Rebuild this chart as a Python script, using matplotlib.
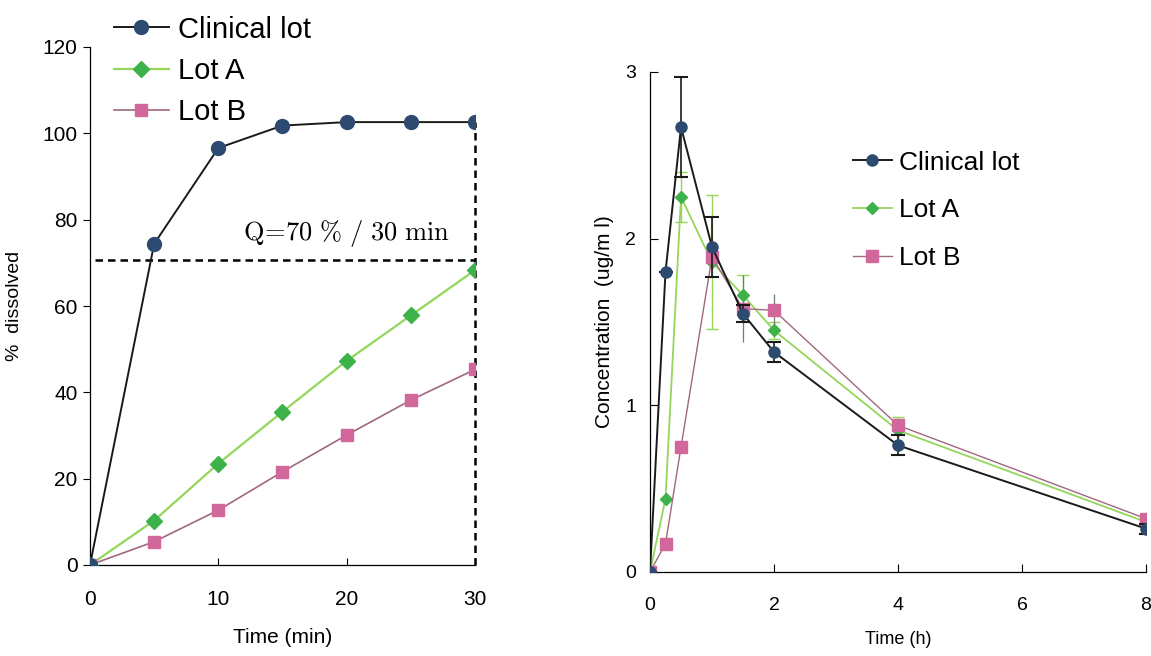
import numpy as np
import matplotlib
matplotlib.use("Agg")
import matplotlib.pyplot as plt

plt.rcParams['font.family'] = ['Liberation Sans', 'DejaVu Sans']
plt.rcParams['mathtext.fontset'] = 'cm'

# dissolution (left)
t_diss = [0, 5, 10, 15, 20, 25, 30]
diss_clinical = [0, 74.4, 96.6, 101.8, 102.6, 102.6, 102.6]
diss_lot_a = [0, 10.3, 23.5, 35.5, 47.3, 57.8, 68.3]
diss_lot_b = [0, 5.4, 12.7, 21.6, 30.1, 38.2, 45.3]
q_level = 70.6

# plasma concentration (right)
t_pk = [0, 0.25, 0.5, 1, 1.5, 2, 4, 8]
pk_clinical = [0, 1.80, 2.67, 1.95, 1.55, 1.32, 0.76, 0.26]
pk_clinical_err = [0, 0, 0.30, 0.18, 0.05, 0.06, 0.06, 0.03]
pk_lot_a = [0, 0.44, 2.25, 1.86, 1.66, 1.45, 0.85, 0.30]
pk_lot_a_err = [0, 0, 0.15, 0.40, 0.12, 0.05, 0.08, 0.03]
pk_lot_b = [0, 0.17, 0.75, 1.89, 1.58, 1.57, 0.88, 0.32]
pk_lot_b_err = [0, 0, 0, 0, 0.20, 0.10, 0.04, 0.04]

labels = ["Clinical lot", "Lot A", "Lot B"]
c_navy, c_black = "#2d4a70", "#1a1a1a"
c_green, c_green_line = "#3db24a", "#93d65a"
c_pink, c_pink_line = "#d2679b", "#a0687f"

fig = plt.figure(figsize=(11.51, 6.56), dpi=100)

# ---- left panel ----
ax1 = fig.add_axes([90/1151, 1-565/656, 385/1151, 518/656])
ax1.plot(t_diss, diss_clinical, '-o', color=c_black, lw=1.4, mfc=c_navy, mec=c_navy, ms=10, label=labels[0], zorder=4)
ax1.plot(t_diss, diss_lot_a, '-D', color=c_green_line, lw=1.6, mfc=c_green, mec=c_green, ms=8, label=labels[1], zorder=3)
ax1.plot(t_diss, diss_lot_b, '-s', color=c_pink_line, lw=1.2, mfc=c_pink, mec=c_pink, ms=9, label=labels[2], zorder=3)
ax1.plot([0.4, t_diss[-1]], [q_level, q_level], color='black', lw=1.8, ls=(0, (3, 2)), clip_on=False)
ax1.plot([t_diss[-1], t_diss[-1]], [0, diss_clinical[-1]], color='black', lw=1.8, ls=(0, (3, 2)), clip_on=False)
ax1.text(20, 75.3, r'$\mathrm{Q}\!=\!\mathrm{70\ \%\ /\ 30\ min}$', fontsize=19, ha='center', va='baseline')
ax1.set_xlim(0, 30)
ax1.set_ylim(0, 120)
ax1.set_xticks([0, 10, 20, 30])
ax1.set_yticks(range(0, 121, 20))
ax1.spines['top'].set_visible(False)
ax1.spines['right'].set_visible(False)
ax1.tick_params(axis='y', direction='out', length=5, labelsize=15, pad=4)
ax1.tick_params(axis='x', direction='in', length=5, labelsize=15, pad=18)
ax1.set_xlabel("Time (min)", fontsize=15, labelpad=14)
ax1.set_ylabel("%  dissolved", fontsize=14, labelpad=14)
for s in ax1.spines.values():
    s.set_linewidth(0.9)
ax1.legend(loc='upper left', bbox_to_anchor=(102/1151, 1-4/656), bbox_transform=fig.transFigure,
           frameon=False, fontsize=21, handlelength=1.9, handletextpad=0.3, labelspacing=0.45,
           borderaxespad=0)

# ---- right panel ----
ax2 = fig.add_axes([650/1151, 1-572/656, 496/1151, 500/656])
e1 = ax2.errorbar(t_pk, pk_clinical, yerr=pk_clinical_err, fmt='-o', color=c_black, lw=1.4, mfc=c_navy, mec=c_navy,
                  ms=8, ecolor=c_black, elinewidth=1.2, capsize=5, capthick=1.5, zorder=4)
e2 = ax2.errorbar(t_pk, pk_lot_a, yerr=pk_lot_a_err, fmt='-D', color=c_green_line, lw=1.3, mfc=c_green, mec=c_green,
                  ms=6, ecolor=c_green_line, elinewidth=1.0, capsize=4, capthick=1.0, zorder=3)
e3 = ax2.errorbar(t_pk, pk_lot_b, yerr=pk_lot_b_err, fmt='-s', color=c_pink_line, lw=1.0, mfc=c_pink, mec=c_pink,
                  ms=8, ecolor='#777777', elinewidth=0.9, capsize=0, zorder=3)
ax2.set_xlim(0, 8)
ax2.set_ylim(0, 3)
ax2.set_xticks([0, 2, 4, 6, 8])
ax2.set_yticks([0, 1, 2, 3])
ax2.spines['top'].set_visible(False)
ax2.spines['right'].set_visible(False)
ax2.tick_params(axis='both', direction='in', length=6, labelsize=14)
ax2.tick_params(axis='x', pad=18)
ax2.tick_params(axis='y', pad=10)
ax2.set_xlabel("Time (h)", fontsize=13, labelpad=12)
ax2.set_ylabel("Concentration  (ug/m l)", fontsize=15, labelpad=8)
for s in ax2.spines.values():
    s.set_linewidth(0.9)
ax2.legend([e1[0], e2[0], e3[0]], labels, loc='upper left', bbox_to_anchor=(842/1151, 1-140/656),
           bbox_transform=fig.transFigure, frameon=False, fontsize=19, handlelength=1.5,
           handletextpad=0.25, labelspacing=0.9, borderaxespad=0)

fig.savefig("out.png", dpi=100)
